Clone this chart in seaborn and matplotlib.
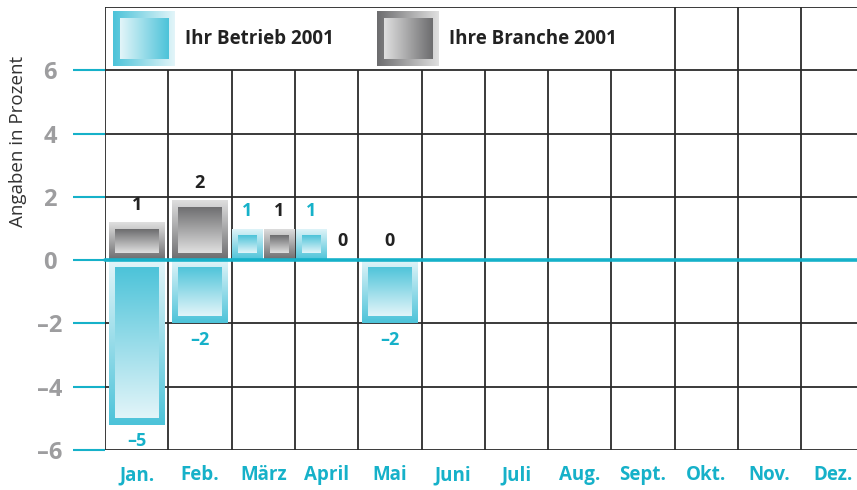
import numpy as np
import pandas as pd
import matplotlib
matplotlib.use("Agg")
import matplotlib.pyplot as plt
from matplotlib.colors import LinearSegmentedColormap
import seaborn as sns

# data
MONTHS = ["Jan.", "Feb.", "März", "April", "Mai", "Juni", "Juli",
          "Aug.", "Sept.", "Okt.", "Nov.", "Dez."]
BETRIEB = [-5.2, -2, 1, 1, -2]      # Ihr Betrieb 2001
BRANCHE = [1.2, 1.9, 1, 0, 0]       # Ihre Branche 2001
SERIES_NAMES = ["Ihr Betrieb 2001", "Ihre Branche 2001"]
Y_TICKS = [-6, -4, -2, 0, 2, 4, 6]

CYAN = "#16b1c9"
GRID = "#2b2b2b"
TICK_GREY = "#9d9d9f"
DARK = "#222222"

CYAN_CMAP = LinearSegmentedColormap.from_list("cy", ["#e3f5f9", "#4cc3d9"])
GREY_CMAP = LinearSegmentedColormap.from_list("gr", ["#e0e0e0", "#6c6c6e"])

sns.set_theme(style="white")
plt.rcParams["font.family"] = ["Open Sans", "DejaVu Sans"]

rows = []
for i, (b, r) in enumerate(zip(BETRIEB, BRANCHE)):
    rows.append((MONTHS[i], i, SERIES_NAMES[0], b))
    rows.append((MONTHS[i], i, SERIES_NAMES[1], r))
df = pd.DataFrame(rows, columns=["month", "pos", "series", "value"])

# bars on the same side of zero share the column, a lone bar fills it
df["side"] = np.where(df["value"] < 0, "neg", "pos")
df["n_side"] = df.groupby(["pos", "side"])["value"].transform("size")
df["rank"] = df.groupby(["pos", "side"]).cumcount()
df["width"] = np.where(df["n_side"] == 1, 0.87, 0.48)
df["x"] = np.where(df["n_side"] == 1, df["pos"],
                   df["pos"] - 0.25 + 0.5 * df["rank"])

fig = plt.figure(figsize=(8.57, 4.90), dpi=100)
ax = fig.add_axes([105 / 857, 40 / 490, 759.6 / 857, 443 / 490])
ax.set_xlim(-0.5, 11.5)
ax.set_ylim(-6, 8)
for s in ax.spines.values():
    s.set_visible(False)

# grid: legend row (6..8) only has column lines right of Sept.
for k in range(13):
    xb = k - 0.5
    top = 8 if (xb >= 8.5 or k == 0) else 6
    ax.plot([xb, xb], [-6, top], color=GRID, lw=1.3, zorder=1, solid_capstyle="butt")
for yv in [-6, -4, -2, 2, 4, 6, 8]:
    ax.plot([-0.5, 11.5], [yv, yv], color=GRID, lw=1.3, zorder=1)


def gradient_fill(patch, cmap, flip, horizontal=False, z=3):
    x0, y0 = patch.get_x(), patch.get_y()
    w, h = patch.get_width(), patch.get_height()
    grad = np.linspace(0, 1, 256)
    if flip:
        grad = grad[::-1]
    arr = grad[None, :] if horizontal else grad[:, None]
    im = ax.imshow(arr, cmap=cmap, aspect="auto", origin="upper",
                   extent=[x0, x0 + w, min(y0, y0 + h), max(y0, y0 + h)],
                   zorder=z, vmin=0, vmax=1)
    im.set_clip_path(patch)


INSET_X = 6 / 63.3
INSET_Y = 7 / 31.67

for _, row in df.iterrows():
    v = row["value"]
    cmap = CYAN_CMAP if row["series"] == SERIES_NAMES[0] else GREY_CMAP
    lab_col = CYAN if row["series"] == SERIES_NAMES[0] else DARK
    if v != 0:
        outer = ax.bar(row["x"], v, width=row["width"], color="none",
                       linewidth=0, zorder=2)[0]
        # outer frame: light on top, strong at the bottom
        gradient_fill(outer, cmap, flip=False, z=3)
        lo, hi = min(0, v), max(0, v)
        inner = ax.bar(row["x"], (hi - lo) - 2 * INSET_Y, bottom=lo + INSET_Y,
                       width=row["width"] - 2 * INSET_X, color="none",
                       linewidth=0, zorder=4)[0]
        gradient_fill(inner, cmap, flip=True, z=4)
    txt = f"{round(v):d}".replace("-", "–")
    if v < 0:
        ax.annotate(txt, (row["x"], v), xytext=(0, -12), textcoords="offset points",
                    ha="center", va="center", color=lab_col, fontsize=13,
                    fontweight="bold", zorder=6)
    else:
        off = 14 if v == 0 else 12.5
        ax.annotate(txt, (row["x"], v), xytext=(0, off), textcoords="offset points",
                    ha="center", va="center", color=lab_col, fontsize=13,
                    fontweight="bold", zorder=6)

# zero line in cyan, reaching out to the tick marks
ax.plot([-0.5, 11.5], [0, 0], color=CYAN, lw=2.6, zorder=5, clip_on=False)

ax.set_yticks(Y_TICKS)
ax.set_yticklabels([f"{t}".replace("-", "–") for t in Y_TICKS])
ax.tick_params(axis="y", which="both", left=True, direction="out", length=23,
               width=1.5, color=CYAN, pad=16.5, labelsize=17, labelcolor=TICK_GREY)
for t in ax.get_yticklabels():
    t.set_fontweight("bold")
    t.set_horizontalalignment("center")

ax.set_xticks(range(12))
ax.set_xticklabels(MONTHS)
ax.tick_params(axis="x", which="both", bottom=False, length=0, pad=11,
               labelsize=13.5, labelcolor=CYAN)
for t in ax.get_xticklabels():
    t.set_fontweight("bold")

fig.text(18 / 857, 1 - 141 / 490, "Angaben in Prozent", rotation=90,
         ha="center", va="center", fontsize=13.5, color="#333333")

# legend in the top row: horizontal gradient swatches
legend_items = [
    (0.116, SERIES_NAMES[0], CYAN_CMAP, 0.764),
    (4.287, SERIES_NAMES[1], GREY_CMAP, 4.93),
]
for x_sw, name, cmap, x_txt in legend_items:
    sw = ax.bar(x_sw, 1.74, bottom=6.14, width=0.97, color="none",
                linewidth=0, zorder=2)[0]
    gradient_fill(sw, cmap, flip=True, horizontal=True, z=3)
    sw_in = ax.bar(x_sw, 1.74 - 0.44, bottom=6.36, width=0.97 - 0.2,
                   color="none", linewidth=0, zorder=4)[0]
    gradient_fill(sw_in, cmap, flip=False, horizontal=True, z=4)
    ax.text(x_txt, 7.0, name, ha="left", va="center",
            fontsize=13.5, fontweight="bold", color=DARK, zorder=6)

fig.savefig("out.png", dpi=100, facecolor="white")
